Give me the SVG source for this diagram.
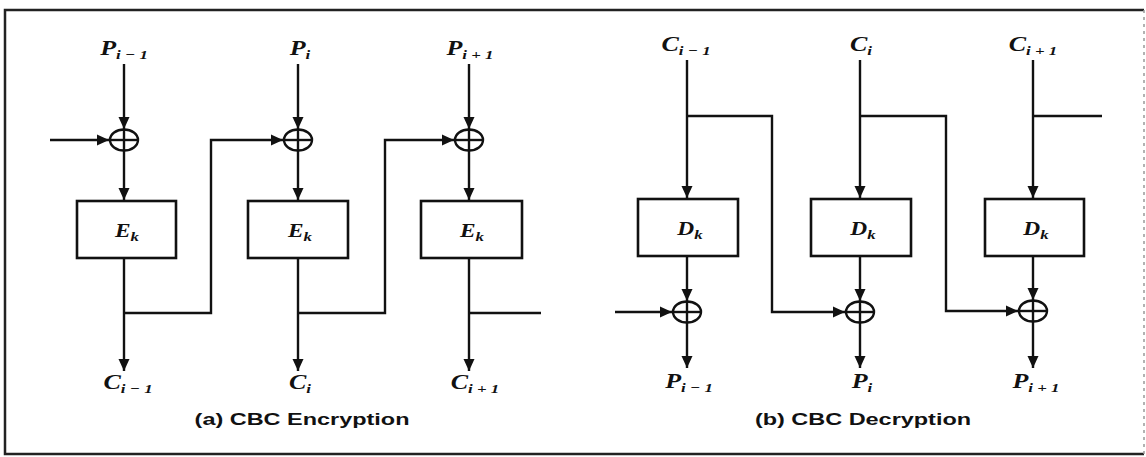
<svg xmlns="http://www.w3.org/2000/svg" width="1146" height="457" viewBox="0 0 1146 457">
<style>
.ln{fill:none;stroke:#111;stroke-width:2.4}
.bx{fill:#fff;stroke:#111;stroke-width:2.6}
.xr{fill:none;stroke:#111;stroke-width:2.4}
.lb{font-family:"Liberation Serif","Times New Roman",serif;font-weight:bold;font-style:italic;font-size:20px;fill:#111}
.sb{font-size:13px}
.bl{font-family:"Liberation Serif","Times New Roman",serif;font-weight:bold;font-style:italic;font-size:18px;fill:#111}
.cap{font-family:"Liberation Sans",Arial,sans-serif;font-weight:bold;font-size:17px;fill:#111}
</style>
<defs>
<marker id="ah" markerUnits="userSpaceOnUse" markerWidth="13" markerHeight="13" refX="12" refY="6.5" orient="auto" viewBox="0 0 13 13">
<path d="M0,1 L12,6.5 L0,12 z" fill="#111"/>
</marker>
<g id="xor"><ellipse cx="0" cy="0" rx="14" ry="10.5" class="xr"/><line x1="-14" y1="0" x2="14" y2="0" class="xr"/><line x1="0" y1="-10.5" x2="0" y2="10.5" class="xr"/></g>
</defs>
<rect x="0" y="0" width="1146" height="457" fill="#fff"/>
<g id="frame" fill="none" stroke-width="2.5">
<path d="M1144,10 H5 V454 H1144" stroke="#222"/>
<path d="M1144,10 V454" stroke="#999" stroke-width="1.5" stroke-dasharray="3 4"/>
</g>

<g id="connectors">
<!-- encryption -->
<path class="ln" d="M124,64 V129" marker-end="url(#ah)"/>
<path class="ln" d="M124,150 V200" marker-end="url(#ah)"/>
<path class="ln" d="M124,258 V371" marker-end="url(#ah)"/>
<path class="ln" d="M50,140 H109" marker-end="url(#ah)"/>
<path class="ln" d="M298,64 V129" marker-end="url(#ah)"/>
<path class="ln" d="M298,150 V200" marker-end="url(#ah)"/>
<path class="ln" d="M298,258 V371" marker-end="url(#ah)"/>
<path class="ln" d="M124,313 H211 V140 H283" marker-end="url(#ah)"/>
<path class="ln" d="M469,64 V129" marker-end="url(#ah)"/>
<path class="ln" d="M469,150 V200" marker-end="url(#ah)"/>
<path class="ln" d="M469,258 V371" marker-end="url(#ah)"/>
<path class="ln" d="M298,313 H385 V140 H454" marker-end="url(#ah)"/>
<path class="ln" d="M469,313 H541"/>
<!-- decryption -->
<path class="ln" d="M687,60 V198" marker-end="url(#ah)"/>
<path class="ln" d="M687,256 V301" marker-end="url(#ah)"/>
<path class="ln" d="M687,322 V368" marker-end="url(#ah)"/>
<path class="ln" d="M615,312 H672" marker-end="url(#ah)"/>
<path class="ln" d="M860,60 V198" marker-end="url(#ah)"/>
<path class="ln" d="M860,256 V301" marker-end="url(#ah)"/>
<path class="ln" d="M860,322 V368" marker-end="url(#ah)"/>
<path class="ln" d="M687,116 H772 V312 H845" marker-end="url(#ah)"/>
<path class="ln" d="M1033,60 V198" marker-end="url(#ah)"/>
<path class="ln" d="M1033,256 V300" marker-end="url(#ah)"/>
<path class="ln" d="M1033,321 V368" marker-end="url(#ah)"/>
<path class="ln" d="M860,116 H946 V311 H1018" marker-end="url(#ah)"/>
<path class="ln" d="M1033,116 H1102"/>
</g>

<g id="enc1">
<text class="lb" text-anchor="middle" transform="translate(124,55) scale(1.3,1)">P<tspan class="sb" dy="4">i − 1</tspan></text>
<use href="#xor" x="124" y="140"/>
<rect class="bx" x="77" y="201" width="99" height="57"/>
<text class="bl" text-anchor="middle" transform="translate(127,237) scale(1.3,1)">E<tspan class="sb" dy="4">k</tspan></text>
<text class="lb" text-anchor="middle" transform="translate(128,389) scale(1.3,1)">C<tspan class="sb" dy="4">i − 1</tspan></text>
</g>
<g id="enc2">
<text class="lb" text-anchor="middle" transform="translate(300,55) scale(1.3,1)">P<tspan class="sb" dy="4">i</tspan></text>
<use href="#xor" x="298" y="140"/>
<rect class="bx" x="248" y="201" width="100" height="57"/>
<text class="bl" text-anchor="middle" transform="translate(300,237) scale(1.3,1)">E<tspan class="sb" dy="4">k</tspan></text>
<text class="lb" text-anchor="middle" transform="translate(300,389) scale(1.3,1)">C<tspan class="sb" dy="4">i</tspan></text>
</g>
<g id="enc3">
<text class="lb" text-anchor="middle" transform="translate(470,55) scale(1.3,1)">P<tspan class="sb" dy="4">i + 1</tspan></text>
<use href="#xor" x="469" y="140"/>
<rect class="bx" x="421" y="201" width="101" height="57"/>
<text class="bl" text-anchor="middle" transform="translate(472,237) scale(1.3,1)">E<tspan class="sb" dy="4">k</tspan></text>
<text class="lb" text-anchor="middle" transform="translate(475,389) scale(1.3,1)">C<tspan class="sb" dy="4">i + 1</tspan></text>
</g>
<g id="dec1">
<text class="lb" text-anchor="middle" transform="translate(686,51) scale(1.3,1)">C<tspan class="sb" dy="4">i − 1</tspan></text>
<rect class="bx" x="638" y="199" width="100" height="57"/>
<text class="bl" text-anchor="middle" transform="translate(690,235) scale(1.3,1)">D<tspan class="sb" dy="4">k</tspan></text>
<use href="#xor" x="687" y="312"/>
<text class="lb" text-anchor="middle" transform="translate(689,388) scale(1.3,1)">P<tspan class="sb" dy="4">i − 1</tspan></text>
</g>
<g id="dec2">
<text class="lb" text-anchor="middle" transform="translate(861,51) scale(1.3,1)">C<tspan class="sb" dy="4">i</tspan></text>
<rect class="bx" x="811" y="199" width="100" height="57"/>
<text class="bl" text-anchor="middle" transform="translate(863,235) scale(1.3,1)">D<tspan class="sb" dy="4">k</tspan></text>
<use href="#xor" x="860" y="312"/>
<text class="lb" text-anchor="middle" transform="translate(862,388) scale(1.3,1)">P<tspan class="sb" dy="4">i</tspan></text>
</g>
<g id="dec3">
<text class="lb" text-anchor="middle" transform="translate(1033,51) scale(1.3,1)">C<tspan class="sb" dy="4">i + 1</tspan></text>
<rect class="bx" x="985" y="199" width="99" height="57"/>
<text class="bl" text-anchor="middle" transform="translate(1036,235) scale(1.3,1)">D<tspan class="sb" dy="4">k</tspan></text>
<use href="#xor" x="1033" y="311"/>
<text class="lb" text-anchor="middle" transform="translate(1036,388) scale(1.3,1)">P<tspan class="sb" dy="4">i + 1</tspan></text>
</g>
<g id="captions">
<text class="cap" text-anchor="middle" transform="translate(302,425) scale(1.38,1)">(a) CBC Encryption</text>
<text class="cap" text-anchor="middle" transform="translate(863,425) scale(1.38,1)">(b) CBC Decryption</text>
</g>
</svg>
